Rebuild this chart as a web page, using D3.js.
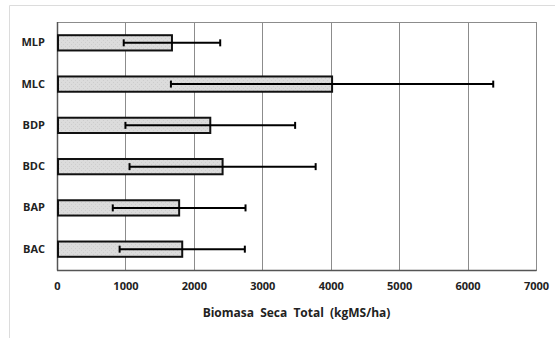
<!DOCTYPE html>
<html>
<head>
<meta charset="utf-8">
<script src="https://cdn.jsdelivr.net/npm/d3@7"></script>
<style>
  body { margin: 0; background: #fff; }
  svg { display: block; font-family: "Open Sans", "Liberation Sans", sans-serif; }
</style>
</head>
<body>
<svg id="chart" width="555" height="338"></svg>
<script>
const categories = ['MLP', 'MLC', 'BDP', 'BDC', 'BAP', 'BAC'];
const means = [1680, 4020, 2240, 2420, 1785, 1830];
const errors = [705, 2355, 1240, 1360, 970, 915];
const ticks = [0, 1000, 2000, 3000, 4000, 5000, 6000, 7000];

const data = categories.map((c, i) => ({ cat: c, mean: means[i], err: errors[i] }));

const svg = d3.select('#chart');
const margin = { left: 57, right: 19, top: 22, bottom: 68 };
const width = 555 - margin.left - margin.right;
const height = 338 - margin.top - margin.bottom;

// light outer frame (top + left only visible)
svg.append('path')
  .attr('d', 'M9.5,338 V5.5 H555')
  .attr('fill', 'none')
  .attr('stroke', '#dcdcdc');

// dotted fill like the original
const defs = svg.append('defs');
const pat = defs.append('pattern')
  .attr('id', 'dots')
  .attr('width', 4).attr('height', 4)
  .attr('patternUnits', 'userSpaceOnUse');
pat.append('rect').attr('width', 4).attr('height', 4).attr('fill', '#dcdcdc');
pat.append('rect').attr('x', 0).attr('y', 0).attr('width', 1).attr('height', 1).attr('fill', '#cdcdcd');
pat.append('rect').attr('x', 2).attr('y', 2).attr('width', 1).attr('height', 1).attr('fill', '#cdcdcd');

const g = svg.append('g').attr('transform', `translate(${margin.left},${margin.top})`);

const x = d3.scaleLinear().domain([0, 7000]).range([0, width]);
const y = d3.scaleBand().domain(categories).range([0, height]).paddingInner(0.63).paddingOuter(0.32);

// gridlines
g.selectAll('.grid')
  .data(ticks.slice(1))
  .join('line')
  .attr('x1', d => Math.round(x(d)) + 0.5)
  .attr('x2', d => Math.round(x(d)) + 0.5)
  .attr('y1', 0)
  .attr('y2', height)
  .attr('stroke', '#8c8c8c')
  .attr('stroke-width', 1);

// plot frame
g.append('rect')
  .attr('x', 0.5).attr('y', 0.5)
  .attr('width', width).attr('height', height)
  .attr('fill', 'none')
  .attr('stroke', '#8c8c8c');

// axes lines (darker left/bottom)
g.append('line').attr('x1', 0.5).attr('x2', 0.5).attr('y1', 0).attr('y2', height + 0.5)
  .attr('stroke', '#555').attr('stroke-width', 1.5);
g.append('line').attr('x1', 0).attr('x2', width + 0.5).attr('y1', height + 0.5).attr('y2', height + 0.5)
  .attr('stroke', '#555').attr('stroke-width', 1.5);

// bars
g.selectAll('.bar')
  .data(data)
  .join('rect')
  .attr('x', x(0) + 1)
  .attr('y', d => y(d.cat))
  .attr('width', d => x(d.mean) - x(0) - 1)
  .attr('height', y.bandwidth())
  .attr('fill', 'url(#dots)')
  .attr('stroke', '#111')
  .attr('stroke-width', 2);

// error bars
const eb = g.selectAll('.err')
  .data(data)
  .join('g')
  .attr('transform', d => `translate(0,${y(d.cat) + y.bandwidth() / 2})`);
eb.append('line')
  .attr('x1', d => x(d.mean - d.err))
  .attr('x2', d => x(d.mean + d.err))
  .attr('stroke', '#000').attr('stroke-width', 2);
eb.append('line')
  .attr('x1', d => x(d.mean - d.err)).attr('x2', d => x(d.mean - d.err))
  .attr('y1', -3.5).attr('y2', 3.5)
  .attr('stroke', '#000').attr('stroke-width', 2);
eb.append('line')
  .attr('x1', d => x(d.mean + d.err)).attr('x2', d => x(d.mean + d.err))
  .attr('y1', -3.5).attr('y2', 3.5)
  .attr('stroke', '#000').attr('stroke-width', 2);

// x tick labels
const xAxis = g.append('g')
  .attr('transform', `translate(0,${height})`)
  .call(d3.axisBottom(x).tickValues(ticks).tickSize(0).tickPadding(12).tickFormat(d3.format('d')));
xAxis.select('.domain').remove();
xAxis.selectAll('text')
  .attr('font-size', 11).attr('font-weight', 'bold').attr('fill', '#222')
  .attr('font-family', '"Open Sans", sans-serif');

// y category labels
const yAxis = g.append('g')
  .call(d3.axisLeft(y).tickSize(0).tickPadding(12));
yAxis.select('.domain').remove();
yAxis.selectAll('text')
  .attr('font-size', 11).attr('font-weight', 'bold').attr('fill', '#222')
  .attr('font-family', '"Open Sans", sans-serif');

// axis title
g.append('text')
  .attr('x', width / 2)
  .attr('y', height + 47)
  .attr('text-anchor', 'middle')
  .attr('font-size', 12).attr('font-weight', 'bold').attr('fill', '#222')
  .attr('word-spacing', 3)
  .text('Biomasa Seca Total (kgMS/ha)');
</script>
</body>
</html>
